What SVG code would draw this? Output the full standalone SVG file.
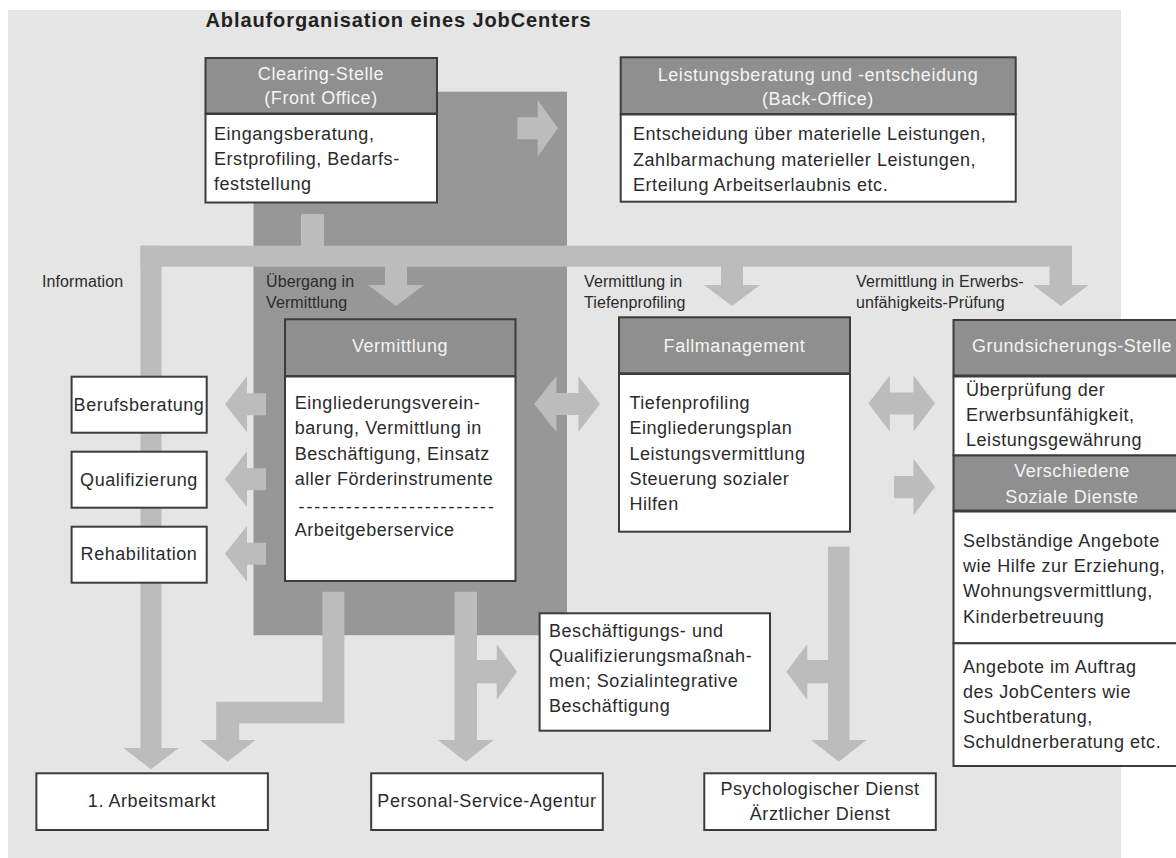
<svg xmlns="http://www.w3.org/2000/svg" width="1176" height="858" viewBox="0 0 1176 858">
<style>
.bg{fill:#e5e5e5}
.dark{fill:#979797}
.ar{fill:#bcbcbc}
.hdr{fill:#8f8f8f;stroke:#3c3c3c;stroke-width:2}
.box{fill:#ffffff;stroke:#3c3c3c;stroke-width:2}
text{font-family:"Liberation Sans",Arial,sans-serif;font-size:18px;letter-spacing:0.55px;fill:#2b2b2b}
.h{fill:#f4f4f4;text-anchor:middle}
.c{text-anchor:middle}
.lbl{font-size:16px;letter-spacing:0.1px}
.title{font-weight:bold;font-size:20px;letter-spacing:0.9px;fill:#222}
</style>
<rect class="bg" x="8" y="10" width="1113" height="848"/>
<rect class="dark" x="253.5" y="91.7" width="313.5" height="543.5"/>
<text class="title" x="205.5" y="27">Ablauforganisation eines JobCenters</text>

<g id="connectors">
  <!-- distribution bar -->
  <rect class="ar" x="301" y="214" width="23" height="34"/>
  <rect class="ar" x="140.5" y="245.7" width="931.5" height="21"/>
  <polygon class="ar" points="140.5,245.7 161.5,245.7 161.5,748 178.7,748 151,769.3 123.3,748 140.5,748"/>
  <polygon class="ar" points="385,266 407,266 407,285 424,285 396,306 368,285 385,285"/>
  <polygon class="ar" points="721,266 743,266 743,285 760,285 732,306 704,285 721,285"/>
  <polygon class="ar" points="1049.5,266 1072,266 1072,285 1088.6,285 1060.8,306 1033,285 1049.5,285"/>
  <!-- to back office -->
  <polygon class="ar" points="517.4,117.3 537.7,117.3 537.7,100 558,128.3 537.7,156.7 537.7,139.3 517.4,139.3"/>
  <!-- left arrows -->
  <polygon class="ar" points="225,404.2 247,376.2 247,393.2 266,393.2 266,415.2 247,415.2 247,432.2"/>
  <polygon class="ar" points="225,479.2 247,451.2 247,468.2 266,468.2 266,490.2 247,490.2 247,507.2"/>
  <polygon class="ar" points="225,553.8 247,525.8 247,542.8 266,542.8 266,564.8 247,564.8 247,581.8"/>
  <!-- double arrows -->
  <polygon class="ar" points="534,404 556.5,376 556.5,393 578.5,393 578.5,376 600,404 578.5,432 578.5,415 556.5,415 556.5,432"/>
  <polygon class="ar" points="868.3,403.5 889.8,375.5 889.8,392.5 913.5,392.5 913.5,375.5 935,403.5 913.5,431.5 913.5,414.5 889.8,414.5 889.8,431.5"/>
  <!-- to Verschiedene -->
  <polygon class="ar" points="894,476 913.5,476 913.5,459 935,487 913.5,515 913.5,498.3 894,498.3"/>
  <!-- bent arrow to 1. Arbeitsmarkt -->
  <polygon class="ar" points="322.4,591.7 344.4,591.7 344.4,723.3 239.2,723.3 239.2,740 255.6,740 227.7,761.7 199.8,740 216.2,740 216.2,701.7 322.4,701.7"/>
  <!-- to Personal-Service-Agentur with branch -->
  <polygon class="ar" points="454.5,591.7 477,591.7 477,660 496.7,660 496.7,644 517,671.7 496.7,700 496.7,683.3 477,683.3 477,740 493.7,740 465.8,761.7 437.9,740 454.5,740"/>
  <!-- to Psychologischer Dienst with branch -->
  <polygon class="ar" points="828,546.7 849.5,546.7 849.5,740 866.5,740 838.8,761.7 811,740 828,740 828,683.3 807.3,683.3 807.3,700 786.4,671.7 807.3,644 807.3,660 828,660"/>
</g>

<g id="labels">
  <text class="lbl" x="42" y="287">Information</text>
  <text class="lbl" x="266" y="287">Übergang in</text>
  <text class="lbl" x="266" y="308">Vermittlung</text>
  <text class="lbl" x="584" y="287">Vermittlung in</text>
  <text class="lbl" x="584" y="308">Tiefenprofiling</text>
  <text class="lbl" x="856" y="287">Vermittlung in Erwerbs-</text>
  <text class="lbl" x="856" y="308">unfähigkeits-Prüfung</text>
</g>

<g id="clearing">
  <rect class="box" x="205.5" y="114" width="231.5" height="88.5"/>
  <rect class="hdr" x="205.5" y="58" width="231.5" height="55.5"/>
  <text class="h" x="321" y="80">Clearing-Stelle</text>
  <text class="h" x="321" y="104">(Front Office)</text>
  <text x="214" y="140">Eingangsberatung,</text>
  <text x="214" y="165">Erstprofiling, Bedarfs-</text>
  <text x="214" y="190">feststellung</text>
</g>

<g id="backoffice">
  <rect class="box" x="620.7" y="114.5" width="395" height="87.2"/>
  <rect class="hdr" x="620.7" y="57.3" width="395" height="56.7"/>
  <text class="h" x="818" y="80.7">Leistungsberatung und -entscheidung</text>
  <text class="h" x="818" y="105">(Back-Office)</text>
  <text x="633" y="140">Entscheidung über materielle Leistungen,</text>
  <text x="633" y="165.5">Zahlbarmachung materieller Leistungen,</text>
  <text x="633" y="190.5">Erteilung Arbeitserlaubnis etc.</text>
</g>

<g id="vermittlung">
  <rect class="box" x="285" y="376.5" width="230.5" height="204.5"/>
  <rect class="hdr" x="285" y="319.3" width="230.5" height="56.7"/>
  <text class="h" x="400" y="351.7">Vermittlung</text>
  <text x="294.7" y="409.3">Eingliederungsverein-</text>
  <text x="294.7" y="434.3">barung, Vermittlung in</text>
  <text x="294.7" y="460">Beschäftigung, Einsatz</text>
  <text x="294.7" y="485">aller Förderinstrumente</text>
  <text x="298.5" y="513" textLength="196" lengthAdjust="spacing">-------------------------</text>
  <text x="294.7" y="536">Arbeitgeberservice</text>
</g>

<g id="fallmanagement">
  <rect class="box" x="619" y="374" width="231" height="157.7"/>
  <rect class="hdr" x="619" y="317.3" width="231" height="56"/>
  <text class="h" x="734.5" y="351.7">Fallmanagement</text>
  <text x="629.4" y="409.3">Tiefenprofiling</text>
  <text x="629.4" y="434.3">Eingliederungsplan</text>
  <text x="629.4" y="460">Leistungsvermittlung</text>
  <text x="629.4" y="485">Steuerung sozialer</text>
  <text x="629.4" y="510">Hilfen</text>
</g>

<g id="berufsberatung">
  <rect class="box" x="71.6" y="376.7" width="135.1" height="56"/>
  <text class="c" x="139" y="411">Berufsberatung</text>
</g>
<g id="qualifizierung">
  <rect class="box" x="71.6" y="451.7" width="135.1" height="56"/>
  <text class="c" x="139" y="485.5">Qualifizierung</text>
</g>
<g id="rehabilitation">
  <rect class="box" x="71.6" y="526.7" width="135.1" height="56"/>
  <text class="c" x="139" y="560">Rehabilitation</text>
</g>

<g id="grundsicherung">
  <rect class="box" x="953.5" y="376.5" width="226" height="79"/>
  <rect class="hdr" x="953.5" y="320" width="226" height="55.5"/>
  <text class="h" x="1072" y="351.7">Grundsicherungs-Stelle</text>
  <text x="966" y="396">Überprüfung der</text>
  <text x="966" y="421">Erwerbsunfähigkeit,</text>
  <text x="966" y="445.5">Leistungsgewährung</text>
</g>

<g id="sozialedienste">
  <rect class="box" x="953.5" y="511.5" width="226" height="131.8"/>
  <rect class="box" x="953.5" y="643.3" width="226" height="122.7"/>
  <rect class="hdr" x="953.5" y="455.5" width="226" height="55"/>
  <text class="h" x="1072" y="477">Verschiedene</text>
  <text class="h" x="1072" y="502.5">Soziale Dienste</text>
  <text x="963" y="546.7">Selbständige Angebote</text>
  <text x="963" y="571.7">wie Hilfe zur Erziehung,</text>
  <text x="963" y="597.3">Wohnungsvermittlung,</text>
  <text x="963" y="622.7">Kinderbetreuung</text>
  <text x="963" y="672.7">Angebote im Auftrag</text>
  <text x="963" y="697.7">des JobCenters wie</text>
  <text x="963" y="723.3">Suchtberatung,</text>
  <text x="963" y="748.3">Schuldnerberatung etc.</text>
</g>

<g id="massnahmen">
  <rect class="box" x="539.6" y="613.3" width="230.4" height="117.4"/>
  <text x="549" y="637">Beschäftigungs- und</text>
  <text x="549" y="662">Qualifizierungsmaßnah-</text>
  <text x="549" y="687">men; Sozialintegrative</text>
  <text x="549" y="712">Beschäftigung</text>
</g>

<g id="arbeitsmarkt">
  <rect class="box" x="36.4" y="773.3" width="231.5" height="56.7"/>
  <text class="c" x="152" y="807">1. Arbeitsmarkt</text>
</g>
<g id="psa">
  <rect class="box" x="371.2" y="773.3" width="231.6" height="56.7"/>
  <text class="c" x="487" y="807">Personal-Service-Agentur</text>
</g>
<g id="dienste">
  <rect class="box" x="704.3" y="773.3" width="231.5" height="56.7"/>
  <text class="c" x="820" y="795">Psychologischer Dienst</text>
  <text class="c" x="820" y="820">Ärztlicher Dienst</text>
</g>
</svg>
